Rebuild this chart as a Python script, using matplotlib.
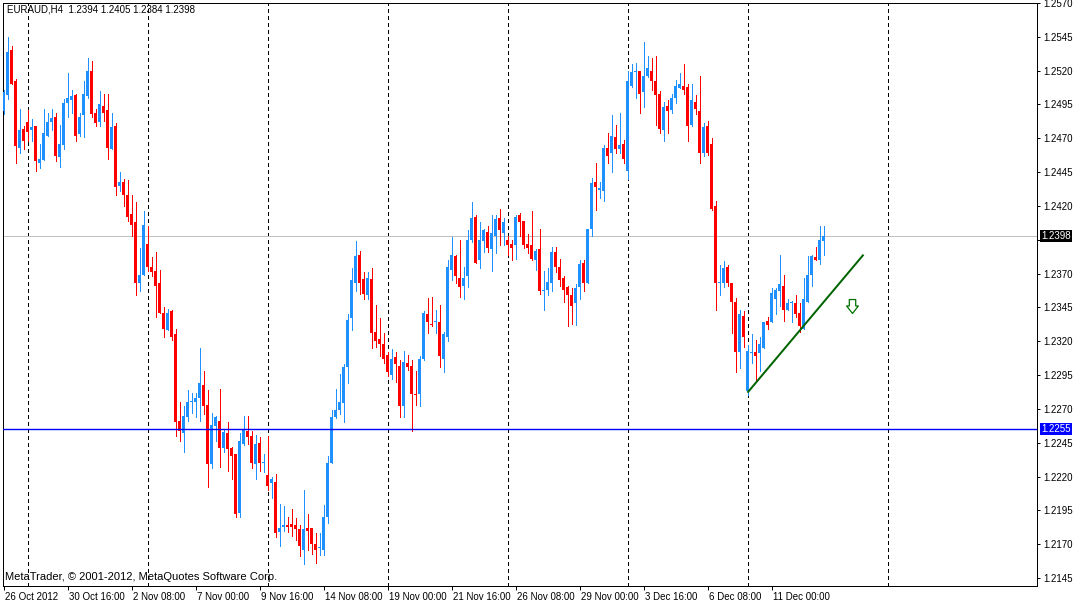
import numpy as np
import matplotlib.pyplot as plt
import matplotlib.transforms as mtransforms
from matplotlib.path import Path

plt.rcParams['font.family'] = ['Liberation Sans', 'DejaVu Sans']

# EURAUD H4 candles, written in pips (price * 10000)
PIP = 10000.0
opens = np.array([
    12490, 12502, 12535, 12512, 12463, 12477, 12482, 12476, 12479, 12452,
    12454, 12472, 12482, 12486, 12456, 12465, 12496, 12498, 12502, 12473,
    12487, 12501, 12520, 12489, 12482, 12494, 12491, 12462, 12479, 12435,
    12438, 12428, 12414, 12408, 12363, 12369, 12392, 12375, 12372, 12363,
    12341, 12328, 12342, 12325, 12261, 12252, 12264, 12275, 12275, 12278,
    12288, 12273, 12229, 12257, 12261, 12241, 12252, 12241, 12237, 12193,
    12244, 12254, 12250, 12229, 12245, 12230, 12221, 12215, 12216, 12179,
    12183, 12184, 12185, 12184, 12181, 12166, 12182, 12182, 12170, 12167,
    12166, 12190, 12230, 12264, 12269, 12274, 12301, 12337, 12363, 12384,
    12366, 12354, 12366, 12327, 12322, 12318, 12310, 12295, 12308, 12302,
    12272, 12304, 12302, 12281, 12281, 12307, 12340, 12333, 12334, 12334,
    12307, 12323, 12373, 12383, 12367, 12361, 12368, 12395, 12412, 12380,
    12394, 12401, 12388, 12398, 12411, 12400, 12395, 12392, 12391, 12413,
    12409, 12392, 12391, 12380, 12388, 12357, 12358, 12363, 12386, 12375,
    12367, 12360, 12354, 12348, 12360, 12378, 12363, 12403, 12438, 12432,
    12431, 12463, 12459, 12471, 12462, 12466, 12446, 12509, 12519, 12520,
    12504, 12516, 12520, 12512, 12503, 12476, 12494, 12491, 12500, 12507,
    12509, 12508, 12480, 12497, 12490, 12459, 12479, 12466, 12420, 12363,
    12363, 12375, 12363, 12349, 12312, 12339, 12283, 12311, 12312, 12311,
    12315, 12335, 12334, 12351, 12357, 12361, 12343, 12348, 12348, 12341,
    12329, 12349, 12369, 12382, 12380, 12394]) / PIP
highs = np.array([
    12506, 12545, 12538, 12514, 12492, 12479, 12491, 12484, 12479, 12466,
    12492, 12489, 12492, 12489, 12480, 12499, 12518, 12506, 12503, 12489,
    12512, 12529, 12527, 12492, 12505, 12503, 12503, 12489, 12481, 12445,
    12440, 12439, 12428, 12423, 12389, 12416, 12405, 12382, 12386, 12373,
    12345, 12344, 12343, 12329, 12275, 12272, 12284, 12282, 12282, 12315,
    12298, 12284, 12267, 12265, 12285, 12255, 12260, 12242, 12237, 12252,
    12265, 12265, 12254, 12251, 12249, 12237, 12250, 12220, 12222, 12200,
    12198, 12190, 12196, 12189, 12184, 12210, 12192, 12182, 12178, 12178,
    12199, 12235, 12269, 12285, 12296, 12303, 12340, 12374, 12394, 12387,
    12371, 12371, 12374, 12347, 12337, 12326, 12312, 12314, 12312, 12306,
    12313, 12310, 12306, 12298, 12309, 12342, 12352, 12353, 12343, 12347,
    12327, 12380, 12397, 12384, 12395, 12375, 12402, 12423, 12413, 12408,
    12403, 12405, 12413, 12413, 12418, 12411, 12398, 12395, 12413, 12415,
    12409, 12399, 12416, 12388, 12403, 12372, 12374, 12390, 12390, 12381,
    12368, 12361, 12359, 12362, 12380, 12380, 12403, 12441, 12452, 12438,
    12465, 12474, 12487, 12480, 12489, 12469, 12520, 12525, 12526, 12520,
    12541, 12531, 12529, 12531, 12505, 12497, 12498, 12503, 12513, 12518,
    12525, 12510, 12510, 12502, 12516, 12481, 12483, 12470, 12424, 12376,
    12379, 12376, 12363, 12352, 12343, 12342, 12317, 12325, 12321, 12323,
    12334, 12338, 12359, 12359, 12384, 12369, 12351, 12350, 12354, 12348,
    12367, 12383, 12384, 12390, 12405, 12405]) / PIP
lows = np.array([
    12488, 12499, 12510, 12452, 12459, 12462, 12468, 12468, 12446, 12448,
    12454, 12472, 12476, 12453, 12449, 12462, 12486, 12489, 12468, 12472,
    12471, 12500, 12486, 12479, 12479, 12483, 12455, 12462, 12428, 12431,
    12420, 12409, 12398, 12354, 12357, 12369, 12372, 12368, 12338, 12341,
    12323, 12328, 12321, 12250, 12246, 12238, 12261, 12267, 12264, 12261,
    12266, 12212, 12226, 12246, 12227, 12238, 12224, 12218, 12190, 12190,
    12243, 12244, 12226, 12218, 12224, 12223, 12210, 12204, 12175, 12169,
    12180, 12179, 12176, 12173, 12161, 12155, 12166, 12163, 12156, 12162,
    12162, 12186, 12230, 12263, 12266, 12260, 12289, 12328, 12357, 12355,
    12351, 12351, 12315, 12316, 12309, 12304, 12294, 12292, 12290, 12264,
    12264, 12299, 12254, 12273, 12272, 12306, 12326, 12331, 12326, 12301,
    12297, 12320, 12365, 12363, 12353, 12351, 12360, 12393, 12378, 12374,
    12386, 12386, 12372, 12385, 12391, 12391, 12384, 12380, 12381, 12398,
    12389, 12385, 12380, 12373, 12355, 12343, 12354, 12357, 12371, 12361,
    12349, 12331, 12333, 12332, 12351, 12357, 12363, 12398, 12417, 12426,
    12424, 12452, 12445, 12459, 12459, 12452, 12440, 12508, 12500, 12489,
    12493, 12515, 12506, 12480, 12474, 12468, 12474, 12489, 12496, 12507,
    12503, 12468, 12479, 12488, 12452, 12457, 12458, 12417, 12343, 12354,
    12360, 12361, 12326, 12297, 12300, 12316, 12280, 12304, 12291, 12298,
    12315, 12329, 12334, 12340, 12346, 12335, 12343, 12334, 12338, 12327,
    12329, 12349, 12361, 12380, 12377, 12384]) / PIP
closes = np.array([
    12504, 12534, 12510, 12464, 12476, 12468, 12475, 12478, 12453, 12455,
    12474, 12482, 12485, 12457, 12466, 12496, 12500, 12501, 12472, 12486,
    12503, 12520, 12488, 12481, 12495, 12489, 12463, 12478, 12434, 12438,
    12428, 12412, 12406, 12363, 12369, 12406, 12375, 12371, 12361, 12341,
    12329, 12341, 12323, 12260, 12254, 12265, 12275, 12276, 12278, 12289,
    12272, 12229, 12258, 12264, 12241, 12253, 12240, 12235, 12192, 12246,
    12255, 12249, 12230, 12244, 12230, 12231, 12213, 12218, 12178, 12182,
    12184, 12183, 12183, 12181, 12169, 12181, 12180, 12170, 12166, 12168,
    12190, 12230, 12264, 12269, 12275, 12301, 12336, 12365, 12383, 12363,
    12355, 12367, 12326, 12320, 12318, 12307, 12297, 12307, 12303, 12272,
    12305, 12301, 12281, 12280, 12307, 12341, 12334, 12332, 12335, 12309,
    12325, 12375, 12384, 12368, 12360, 12367, 12395, 12411, 12378, 12395,
    12402, 12389, 12400, 12410, 12402, 12408, 12391, 12389, 12412, 12408,
    12391, 12389, 12381, 12387, 12357, 12358, 12364, 12386, 12375, 12365,
    12358, 12354, 12346, 12359, 12377, 12363, 12403, 12437, 12434, 12433,
    12463, 12457, 12472, 12462, 12465, 12455, 12512, 12519, 12520, 12503,
    12516, 12522, 12512, 12502, 12477, 12493, 12490, 12500, 12509, 12510,
    12506, 12479, 12498, 12492, 12459, 12478, 12459, 12418, 12363, 12364,
    12374, 12363, 12349, 12312, 12340, 12323, 12313, 12312, 12309, 12318,
    12334, 12332, 12356, 12358, 12362, 12343, 12348, 12349, 12340, 12331,
    12351, 12369, 12383, 12380, 12395, 12398]) / PIP

# bottom axis: one label every 16 bars
date_labels = ["26 Oct 2012", "30 Oct 16:00", "2 Nov 08:00", "7 Nov 00:00",
               "9 Nov 16:00", "14 Nov 08:00", "19 Nov 00:00", "21 Nov 16:00",
               "26 Nov 08:00", "29 Nov 00:00", "3 Dec 16:00", "6 Dec 08:00",
               "11 Dec 00:00"]
label_step = 16
separator_bars = [6, 36, 66, 96, 126, 156, 186, 221]
price_ticks = np.arange(12145, 12571, 25) / PIP

bid_price = 1.2398
level_price = 1.2255
trend_bars = [186, 215]
trend_prices = [1.2282, 1.2384]
arrow_bar, arrow_price = 212, 1.2346

header = "EURAUD,H4  1.2394 1.2405 1.2384 1.2398"
footer = "MetaTrader, \u00a9 2001-2012, MetaQuotes Software Corp."

BULL = "#1e90ff"
BEAR = "#ff0000"

W, H = 1075, 602
fig = plt.figure(figsize=(W / 100, H / 100), dpi=100)
fig.patch.set_facecolor("white")
ax = fig.add_axes([2.5 / W, 16 / H, (1037 - 2.5) / W, (586 - 2.5) / H])
ax.set_xlim(-0.25, (1037 - 3.5) / 4)
ax.set_ylim(1.21391, 1.257035)

# weekly separators
for b in separator_bars:
    ax.axvline(b, color="black", lw=0.72, ls=(0, (4, 3)), zorder=1,
               antialiased=False)

ax.axhline(bid_price, color="#c0c0c0", lw=0.72, zorder=2, antialiased=False)

# candles
x = np.arange(len(opens))
colors = np.where(closes >= opens, BULL, BEAR)
ax.vlines(x, lows, highs, colors=colors, linewidth=0.72, zorder=3, antialiased=False)
body_lo = np.minimum(opens, closes)
body_h = np.maximum(np.abs(closes - opens), 0.00008)
ax.bar(x, body_h, bottom=body_lo, width=0.85, color=colors, linewidth=0,
       zorder=4, antialiased=False)

ax.axhline(level_price, color="#0000ff", lw=1.0, zorder=5)

# trend line and arrow object
ax.plot(trend_bars, trend_prices, color="#006400", lw=1.44, zorder=6,
        solid_capstyle="butt")
arrow_verts = [(-3, 6.5), (3, 6.5), (3, 0.5), (5.5, 0.5), (0, -6.5),
               (-5.5, 0.5), (-3, 0.5), (-3, 6.5)]
arrow_codes = [Path.MOVETO] + [Path.LINETO] * 6 + [Path.CLOSEPOLY]
ax.plot([arrow_bar], [arrow_price], marker=Path(arrow_verts, arrow_codes),
        ms=10, mfc="white", mec="#007000", mew=0.9, ls="none", zorder=6)

# price scale on the right; the tick under the bid box has its label hidden
ax.yaxis.tick_right()
ax.set_yticks(price_ticks)
ax.set_yticklabels(["" if abs(p - bid_price) < 0.0005 else f"{p:.4f}"
                    for p in price_ticks])
ax.tick_params(axis="y", direction="out", length=2.2, width=0.72, pad=2.2,
               labelsize=7, colors="black")

# time scale
ax.set_xticks(np.arange(len(date_labels)) * label_step)
ax.set_xticklabels(date_labels)
ax.tick_params(axis="x", direction="out", length=3, width=0.72, pad=1,
               labelsize=7, colors="black")
shift = mtransforms.ScaledTranslation(1.5 / 100, 0, fig.dpi_scale_trans)
for lab in ax.get_xticklabels():
    lab.set_horizontalalignment("left")
    lab.set_transform(lab.get_transform() + shift)

for sp in ax.spines.values():
    sp.set_linewidth(0.72)
    sp.set_color("black")

# highlighted price labels
ytrans = mtransforms.blended_transform_factory(ax.transAxes, ax.transData)
box_shift = mtransforms.ScaledTranslation(4.5 / 100, 0, fig.dpi_scale_trans)
for price, bg in [(bid_price, "black"), (level_price, "#0000ff")]:
    ax.text(1.0, price, f"{price:.4f}", transform=ytrans + box_shift,
            ha="left", va="center", color="white", fontsize=7, zorder=10,
            clip_on=False,
            bbox=dict(boxstyle="square,pad=0.12", fc=bg, ec="none"))

fig.text(7 / W, 1 - 10 / H, header, ha="left", va="center", fontsize=7)
fig.text(5 / W, 1 - 577 / H, footer, ha="left", va="center", fontsize=8)

fig.savefig("out.png", dpi=100, facecolor="white")
